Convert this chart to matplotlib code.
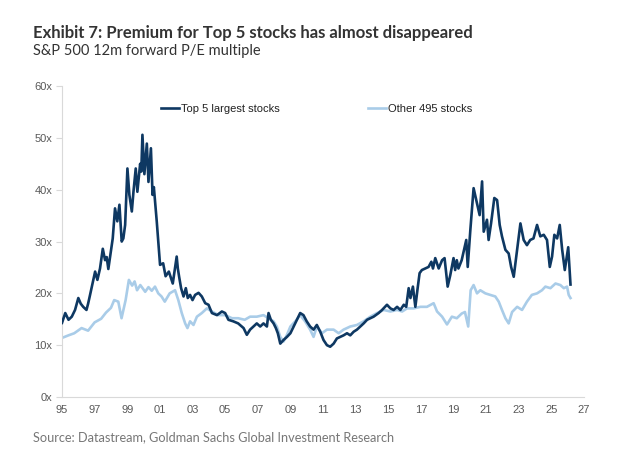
import matplotlib.pyplot as plt

# Top 5 largest stocks: (decimal year, 12m forward P/E)
top5_years = [1995.0, 1995.2, 1995.4, 1995.6, 1995.8, 1996.0, 1996.15, 1996.3, 1996.5, 1996.6,
              1996.72, 1997.03, 1997.17, 1997.33, 1997.5, 1997.64, 1997.74, 1997.84, 1998.11, 1998.25,
              1998.39, 1998.52, 1998.66, 1998.76, 1998.87, 1999.01, 1999.13, 1999.28, 1999.38, 1999.52,
              1999.62, 1999.79, 1999.86, 1999.93, 2000.05, 2000.2, 2000.3, 2000.45, 2000.55, 2000.63,
              2000.81, 2001.01, 2001.2, 2001.35, 2001.55, 2001.79, 2002.03, 2002.1, 2002.18, 2002.3,
              2002.45, 2002.59, 2002.71, 2002.85, 2003.0, 2003.16, 2003.37, 2003.57, 2003.78, 2003.98,
              2004.19, 2004.5, 2004.8, 2005.0, 2005.2, 2005.5, 2005.8, 2006.13, 2006.33, 2006.53,
              2006.74, 2006.94, 2007.15, 2007.35, 2007.56, 2007.66, 2007.8, 2007.97, 2008.11, 2008.23,
              2008.38, 2008.58, 2008.79, 2009.0, 2009.2, 2009.4, 2009.6, 2009.8, 2010.0, 2010.21,
              2010.42, 2010.62, 2010.83, 2011.03, 2011.24, 2011.44, 2011.65, 2011.85, 2012.06, 2012.26,
              2012.47, 2012.67, 2012.88, 2013.08, 2013.29, 2013.49, 2013.7, 2013.9, 2014.1, 2014.41,
              2014.62, 2014.92, 2015.13, 2015.33, 2015.54, 2015.74, 2015.95, 2016.1, 2016.25, 2016.36,
              2016.51, 2016.66, 2016.8, 2016.92, 2017.06, 2017.27, 2017.47, 2017.64, 2017.74, 2017.88,
              2018.09, 2018.3, 2018.45, 2018.64, 2018.8, 2019.0, 2019.1, 2019.2, 2019.3, 2019.5,
              2019.78, 2019.87, 2020.03, 2020.23, 2020.44, 2020.6, 2020.75, 2020.85, 2021.05, 2021.15,
              2021.3, 2021.5, 2021.67, 2021.83, 2021.97, 2022.18, 2022.38, 2022.53, 2022.69, 2022.9,
              2023.1, 2023.3, 2023.5, 2023.7, 2023.9, 2024.12, 2024.32, 2024.53, 2024.73, 2024.9,
              2025.04, 2025.18, 2025.35, 2025.51, 2025.66, 2025.82, 2026.03, 2026.17]
top5_pe = [14.3, 16.2, 14.9, 15.5, 16.8, 19.1, 18.0, 17.4, 16.8, 18.0,
           19.7, 24.2, 22.6, 24.8, 28.6, 26.4, 27.0, 24.7, 30.6, 36.4,
           33.9, 37.1, 30.0, 30.6, 33.2, 44.1, 39.0, 35.8, 39.6, 44.1,
           39.6, 45.0, 43.5, 50.6, 43.0, 48.9, 41.5, 48.0, 39.0, 40.5,
           33.8, 25.5, 25.8, 23.3, 24.2, 21.9, 27.1, 24.8, 23.2, 21.0,
           19.4, 21.0, 19.1, 19.7, 18.7, 19.7, 20.1, 19.4, 18.1, 17.8,
           16.2, 15.8, 16.5, 16.2, 14.9, 14.6, 14.2, 13.3, 12.0, 13.0,
           13.6, 14.2, 13.6, 14.2, 13.6, 16.2, 14.9, 14.2, 13.3, 12.3,
           10.3, 11.0, 11.6, 12.3, 13.6, 14.9, 16.2, 15.8, 14.6, 13.6,
           13.0, 13.9, 12.6, 11.0, 10.0, 9.7, 10.3, 11.3, 11.6, 11.9,
           12.3, 11.9, 12.6, 13.0, 13.6, 14.2, 14.9, 15.2, 15.5, 16.2,
           16.8, 17.8, 17.1, 16.8, 17.4, 16.8, 17.8, 17.4, 21.0, 19.1,
           21.3, 17.4, 21.0, 23.9, 24.5, 24.8, 25.1, 26.1, 24.8, 26.8,
           24.8, 26.4, 26.8, 21.3, 23.5, 26.8, 24.5, 26.4, 24.8, 26.4,
           30.3, 25.1, 32.2, 40.3, 37.4, 35.1, 41.6, 31.9, 34.2, 30.3,
           33.5, 38.4, 38.0, 33.2, 31.0, 28.4, 27.7, 25.1, 23.2, 28.4,
           33.5, 30.3, 29.3, 30.3, 30.6, 33.2, 31.0, 31.3, 30.3, 25.1,
           27.1, 31.3, 30.6, 33.2, 28.4, 24.5, 28.9, 21.7]

# Other 495 stocks
other_years = [1995.0, 1995.4, 1995.75, 1996.2, 1996.6, 1997.0, 1997.4, 1997.7, 1998.0, 1998.2,
               1998.45, 1998.65, 1998.9, 1999.1, 1999.3, 1999.45, 1999.6, 1999.8, 2000.1, 2000.3,
               2000.5, 2000.7, 2000.9, 2001.1, 2001.3, 2001.6, 2001.93, 2002.13, 2002.34, 2002.55,
               2002.69, 2002.85, 2003.06, 2003.27, 2003.57, 2003.88, 2004.19, 2004.6, 2005.0, 2005.42,
               2005.8, 2006.2, 2006.53, 2006.94, 2007.35, 2007.66, 2007.97, 2008.17, 2008.38, 2008.58,
               2008.79, 2009.0, 2009.3, 2009.6, 2009.9, 2010.21, 2010.42, 2010.62, 2010.93, 2011.24,
               2011.65, 2011.96, 2012.26, 2012.67, 2013.08, 2013.49, 2013.9, 2014.31, 2014.72, 2015.13,
               2015.54, 2015.85, 2016.15, 2016.56, 2016.97, 2017.37, 2017.78, 2017.99, 2018.3, 2018.6,
               2018.9, 2019.2, 2019.5, 2019.7, 2019.9, 2020.05, 2020.23, 2020.44, 2020.64, 2020.95,
               2021.25, 2021.56, 2021.77, 2021.97, 2022.18, 2022.38, 2022.59, 2022.9, 2023.2, 2023.5,
               2023.8, 2024.12, 2024.42, 2024.63, 2024.94, 2025.25, 2025.55, 2025.76, 2025.96, 2026.06,
               2026.17]
other_pe = [11.4, 11.9, 12.3, 13.3, 12.8, 14.4, 15.1, 16.3, 17.2, 18.7,
            18.4, 15.2, 18.7, 22.6, 21.5, 22.3, 20.6, 21.6, 20.3, 21.2,
            20.5, 21.3, 20.0, 19.4, 18.4, 20.0, 20.6, 18.7, 16.2, 14.2,
            13.3, 14.6, 13.9, 15.5, 16.2, 17.1, 16.5, 15.8, 15.8, 15.2,
            15.2, 14.9, 15.5, 15.5, 15.8, 15.2, 14.6, 13.6, 11.6, 10.7,
            12.0, 13.6, 14.6, 15.8, 14.6, 13.0, 11.6, 13.6, 12.3, 13.0,
            13.0, 12.3, 13.0, 13.6, 13.9, 14.6, 15.5, 16.2, 16.8, 16.5,
            16.8, 16.5, 17.1, 17.1, 17.4, 17.4, 18.1, 16.5, 15.5, 14.0,
            15.5, 15.2, 16.1, 16.4, 13.6, 20.6, 21.6, 20.0, 20.6, 20.0,
            19.7, 19.4, 18.4, 16.8, 15.2, 14.2, 16.4, 17.4, 16.8, 18.4,
            19.7, 20.0, 20.6, 21.3, 21.0, 21.9, 21.6, 21.0, 21.3, 19.7,
            19.1]

y_ticks = [0, 10, 20, 30, 40, 50, 60]
x_ticks = list(range(1995, 2028, 2))

fig = plt.figure(figsize=(6.2, 4.62), dpi=100)
ax = fig.add_axes([0.100, 0.1407, 0.842, 0.673])

ax.plot(other_years, other_pe, color='#a9cce8', lw=1.9, label='Other 495 stocks', zorder=2)
ax.plot(top5_years, top5_pe, color='#0e3862', lw=1.9, label='Top 5 largest stocks', zorder=3)

ax.set_xlim(1995, 2027)
ax.set_ylim(0, 60)
ax.set_yticks(y_ticks)
ax.set_yticklabels([f'{v}x' for v in y_ticks])
ax.set_xticks(x_ticks)
ax.set_xticklabels([f'{v % 100:02d}' for v in x_ticks])

for s in ['top', 'right']:
    ax.spines[s].set_visible(False)
for s in ['left', 'bottom']:
    ax.spines[s].set_color('#d9d9d9')
    ax.spines[s].set_linewidth(0.8)
ax.tick_params(axis='y', length=4, color='#d9d9d9', labelsize=8, labelcolor='#595959', pad=3)
ax.tick_params(axis='x', length=0, labelsize=8, labelcolor='#595959', pad=6)
for lbl in ax.get_xticklabels() + ax.get_yticklabels():
    lbl.set_family('Liberation Sans')

handles, labels = ax.get_legend_handles_labels()
leg = ax.legend(handles[::-1], labels[::-1], ncol=2, loc='upper left',
                bbox_to_anchor=(0.17, 0.975), frameon=False, handlelength=1.6,
                handletextpad=0.2, columnspacing=8.0,
                prop={'family': 'Liberation Sans', 'size': 8})
for t in leg.get_texts():
    t.set_color('#222222')

fig.text(0.053, 0.928, 'Exhibit 7: Premium for Top 5 stocks has almost disappeared',
         fontsize=12, fontweight='bold', family='Lato', color='#333333', va='center')
fig.text(0.053, 0.890, 'S&P 500 12m forward P/E multiple',
         fontsize=10.5, family='Lato', color='#333333', va='center')
fig.text(0.053, 0.054, 'Source: Datastream, Goldman Sachs Global Investment Research',
         fontsize=9.2, family='Lato', color='#777777', va='center')

plt.savefig('out.png', dpi=100)
